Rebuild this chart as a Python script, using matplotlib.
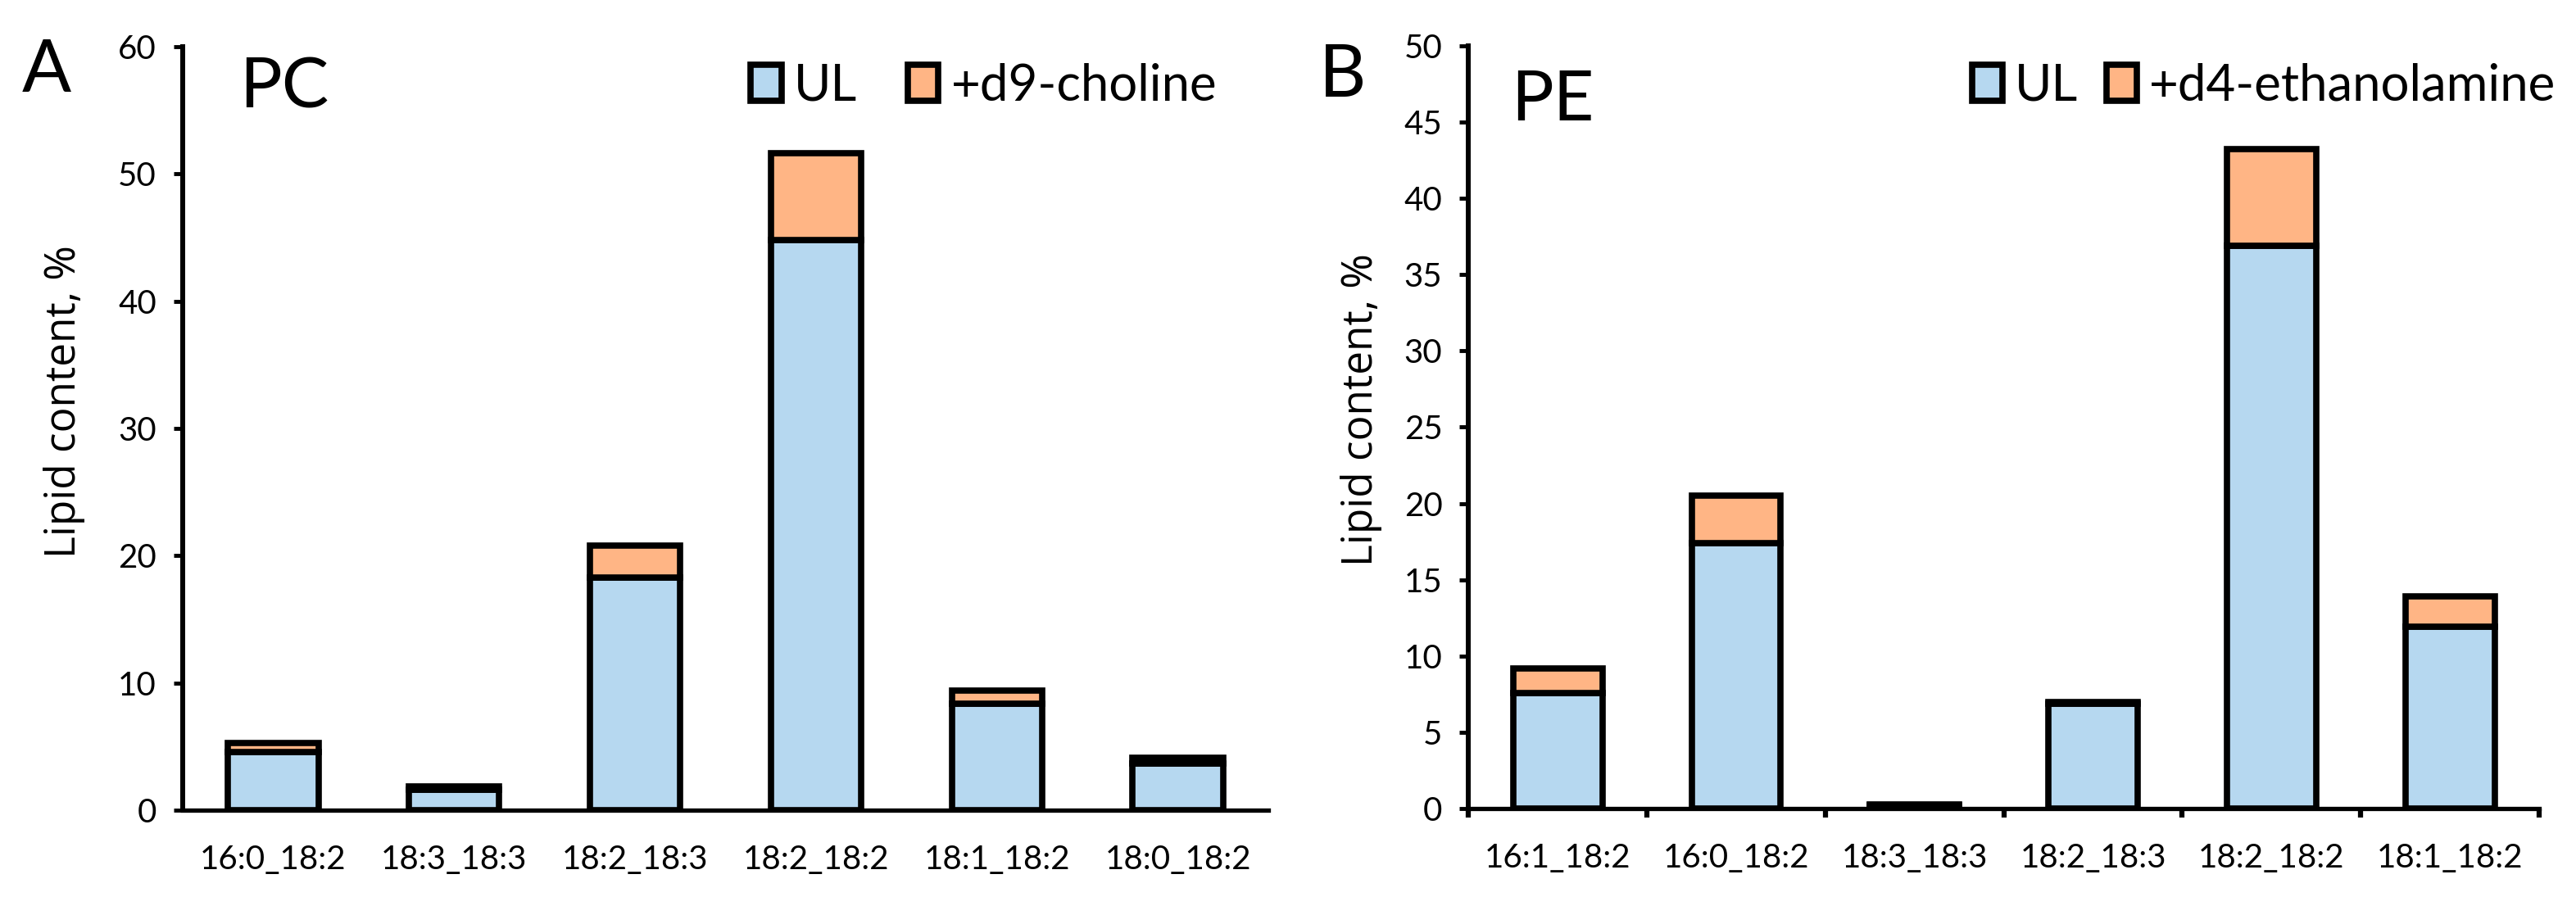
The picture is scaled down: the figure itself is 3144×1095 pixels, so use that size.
import numpy as np
import matplotlib
matplotlib.use('Agg')
import matplotlib.pyplot as plt
from matplotlib.patches import Patch

# PC panel data (percent)
pc_species = ['16:0_18:2', '18:3_18:3', '18:2_18:3', '18:2_18:2', '18:1_18:2', '18:0_18:2']
pc_ul = [4.6, 1.6, 18.3, 44.8, 8.4, 3.65]
pc_label = [0.7, 0.27, 2.5, 6.8, 1.0, 0.45]

# PE panel data (percent)
pe_species = ['16:1_18:2', '16:0_18:2', '18:3_18:3', '18:2_18:3', '18:2_18:2', '18:1_18:2']
pe_ul = [7.6, 17.4, 0.2, 6.9, 36.9, 11.9]
pe_label = [1.6, 3.1, 0.05, 0.1, 6.35, 2.0]

ul_color = '#b6d8f0'
lab_color = '#ffb585'
tick_font = 'Lato'
label_font = 'Open Sans'


def draw_panel(fig, ax, species, ul, lab, ymax, ystep, lab_name, sep_ticks,
               ylab_xy, leg_x, col_space):
    x = np.arange(len(species))
    ax.bar(x, ul, width=0.5, color=ul_color, edgecolor='black', linewidth=5.5, zorder=3)
    ax.bar(x, lab, bottom=ul, width=0.5, color=lab_color, edgecolor='black',
           linewidth=5.5, zorder=3)
    ax.set_xlim(-0.5, len(species) - 0.5)
    ax.set_ylim(0, ymax)
    ax.set_yticks(np.arange(0, ymax + 1, ystep))
    for s in ['top', 'right']:
        ax.spines[s].set_visible(False)
    ax.spines['left'].set_linewidth(4.3)
    ax.spines['bottom'].set_linewidth(3.8)
    ax.tick_params(axis='y', direction='out', length=8, width=3.5, pad=15,
                   labelsize=29)
    if sep_ticks:
        ax.set_xticks(np.arange(-0.5, len(species)), minor=False)
        ax.set_xticklabels([])
        ax.set_xticks(x, minor=True)
        ax.set_xticklabels(species, minor=True)
        ax.tick_params(axis='x', which='major', direction='out', length=8, width=4.5)
        ax.tick_params(axis='x', which='minor', length=0, pad=30, labelsize=29)
    else:
        ax.set_xticks(x)
        ax.set_xticklabels(species)
        ax.tick_params(axis='x', length=0, pad=30, labelsize=29)
    for t in ax.get_xticklabels(which='both') + ax.get_yticklabels():
        t.set_fontfamily(tick_font)
    ax.set_ylabel('Lipid content, %', fontsize=37, family=label_font)
    ax.yaxis.set_label_coords(*ylab_xy)
    handles = [Patch(facecolor=ul_color, edgecolor='black', linewidth=5.5, label='UL'),
               Patch(facecolor=lab_color, edgecolor='black', linewidth=5.5, label=lab_name)]
    fig.legend(handles=handles, loc='center left', bbox_to_anchor=(leg_x, 0.904),
               bbox_transform=fig.transFigure, ncol=2, frameon=False,
               prop={'family': tick_font, 'size': 44.5},
               handlelength=0.6, handleheight=0.7, handletextpad=0.25,
               columnspacing=col_space, borderpad=0, borderaxespad=0)


fig = plt.figure(figsize=(31.44, 10.95), dpi=100)
ax1 = fig.add_axes([0.0709, 0.0968, 0.4215, 0.8512])
ax2 = fig.add_axes([0.5701, 0.0986, 0.4156, 0.8503])

draw_panel(fig, ax1, pc_species, pc_ul, pc_label, 60, 10, '+d9-choline', False,
           (-0.090, 0.535), 0.2915, 1.0)
draw_panel(fig, ax2, pe_species, pe_ul, pe_label, 50, 5, '+d4-ethanolamine', True,
           (-0.081, 0.523), 0.7655, 0.55)

# panel letters and lipid class titles
fig.text(0.0085, 0.8977, 'A', fontsize=64, family=tick_font, va='baseline', ha='left')
fig.text(0.0930, 0.8795, 'PC', fontsize=62, family=tick_font, va='baseline', ha='left')
fig.text(0.5120, 0.8922, 'B', fontsize=64, family=tick_font, va='baseline', ha='left')
fig.text(0.5865, 0.8658, 'PE', fontsize=62, family=tick_font, va='baseline', ha='left')

fig.savefig('out.png', dpi=100)
